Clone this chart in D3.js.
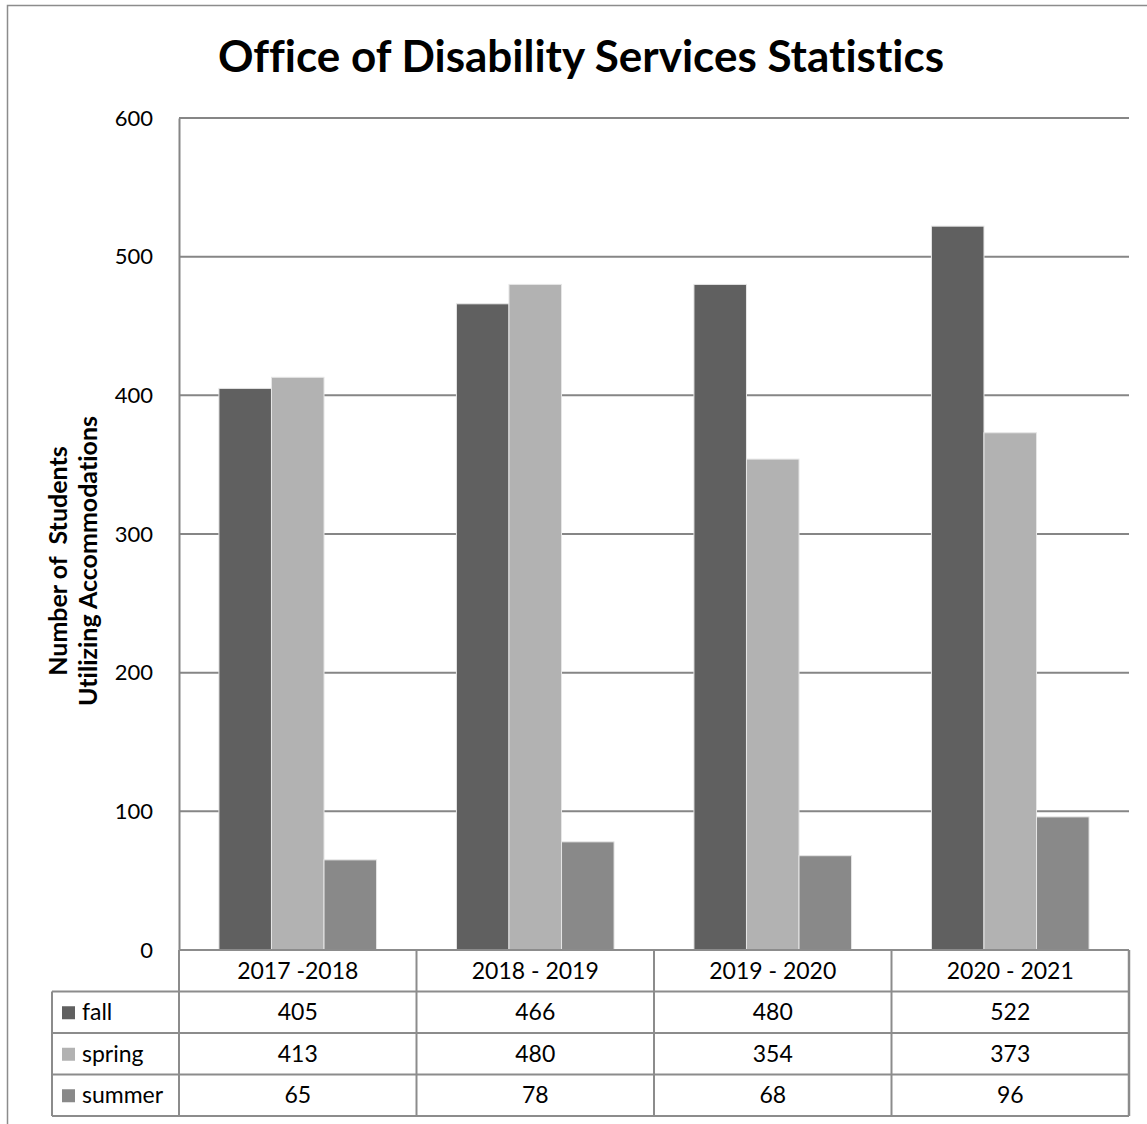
<!DOCTYPE html>
<html><head><meta charset="utf-8">
<script src="https://cdn.jsdelivr.net/npm/d3@7"></script>
<style>body{margin:0;background:#fff}svg{display:block}text{font-variant-ligatures:none;white-space:pre}</style>
</head><body>
<svg id="c" width="1147" height="1124"></svg>
<script>
const categories = ["2017 -2018", "2018 - 2019", "2019 - 2020", "2020 - 2021"];
const seriesNames = ["fall", "spring", "summer"];
const fall = [405, 466, 480, 522];
const spring = [413, 480, 354, 373];
const summer = [65, 78, 68, 96];
const yTicks = [0, 100, 200, 300, 400, 500, 600];
const colors = ["#606060", "#b2b2b2", "#898989"];
const values = [fall, spring, summer];
const FONT = "Lato, 'Open Sans', sans-serif";

const svg = d3.select("#c");
const L = 179, R = 1129, T = 118, B = 950;
const x = d3.scaleBand().domain(categories).range([L, R]);
const xi = d3.scaleBand().domain(seriesNames).range([0, x.bandwidth()]).paddingOuter(0.76).paddingInner(0);
const y = d3.scaleLinear().domain([0, 600]).range([B, T]);

// outer border
svg.append("path").attr("d", "M7.5,1124 V5.5 H1147").attr("fill", "none").attr("stroke", "#8c8c8c").attr("stroke-width", 1.5);

// title
svg.append("text").attr("x", 581).attr("y", 72).attr("text-anchor", "middle")
  .attr("font-family", FONT).attr("font-weight", "bold").attr("font-size", 44).text("Office of Disability Services Statistics");

// gridlines
svg.append("g").selectAll("line").data(yTicks.slice(1)).join("line")
  .attr("x1", L).attr("x2", R).attr("y1", d => y(d)).attr("y2", d => y(d))
  .attr("stroke", "#868686").attr("stroke-width", 2);

// y axis
const ya = svg.append("g").attr("transform", `translate(${L},0)`)
  .call(d3.axisLeft(y).tickValues(yTicks).tickSize(0).tickPadding(26));
ya.select(".domain").attr("stroke", "#868686").attr("stroke-width", 2);
ya.selectAll("text").attr("font-family", FONT).attr("font-size", 22).attr("fill", "#000");

// y title
const yt = svg.append("text").attr("transform", "translate(0,561) rotate(-90)")
  .attr("text-anchor", "middle").attr("font-family", FONT).attr("font-weight", "bold").attr("font-size", 25);
yt.append("tspan").attr("x", 0).attr("y", 67).text("Number of  Students");
yt.append("tspan").attr("x", 0).attr("y", 97).text("Utilizing Accommodations");

// bars
seriesNames.forEach((s, si) => {
  svg.append("g").selectAll("rect").data(values[si]).join("rect")
    .attr("x", (d, i) => x(categories[i]) + xi(s))
    .attr("width", xi.bandwidth())
    .attr("y", d => y(d)).attr("height", d => B - y(d))
    .attr("fill", colors[si]).attr("stroke", "#e6e6e6").attr("stroke-width", 1);
});

// data table
const rowH = 41.5;
const tableTop = B, labelL = 52;
const g = svg.append("g");
const lineC = "#8c8c8c";
g.append("line").attr("x1", L).attr("x2", R).attr("y1", B).attr("y2", B).attr("stroke", lineC).attr("stroke-width", 2);
for (let r = 1; r <= 4; r++) {
  g.append("line").attr("x1", labelL).attr("x2", R).attr("y1", tableTop + r * rowH).attr("y2", tableTop + r * rowH).attr("stroke", lineC).attr("stroke-width", 2);
}
categories.forEach((c, i) => {
  g.append("line").attr("x1", x(c)).attr("x2", x(c)).attr("y1", B).attr("y2", tableTop + 4 * rowH).attr("stroke", lineC).attr("stroke-width", 2);
});
g.append("line").attr("x1", R).attr("x2", R).attr("y1", B).attr("y2", tableTop + 4 * rowH).attr("stroke", lineC).attr("stroke-width", 2.5);
g.append("line").attr("x1", labelL).attr("x2", labelL).attr("y1", tableTop + rowH).attr("y2", tableTop + 4 * rowH).attr("stroke", lineC).attr("stroke-width", 2);

g.selectAll("text.hdr").data(categories).join("text").attr("class", "hdr")
  .attr("x", d => x(d) + x.bandwidth() / 2).attr("y", tableTop + rowH / 2 + 8)
  .attr("text-anchor", "middle").attr("font-family", FONT).attr("font-size", 23).text(d => d);

seriesNames.forEach((s, si) => {
  const cy = tableTop + (si + 1) * rowH + rowH / 2;
  g.append("rect").attr("x", 62).attr("y", cy - 6).attr("width", 13).attr("height", 13).attr("fill", colors[si]);
  g.append("text").attr("x", 82).attr("y", cy + 8).attr("font-family", FONT).attr("font-size", 23).text(s);
  g.selectAll(null).data(values[si]).join("text")
    .attr("x", (d, i) => x(categories[i]) + x.bandwidth() / 2).attr("y", cy + 8)
    .attr("text-anchor", "middle").attr("font-family", FONT).attr("font-size", 23).text(d => d);
});
</script>
</body></html>
